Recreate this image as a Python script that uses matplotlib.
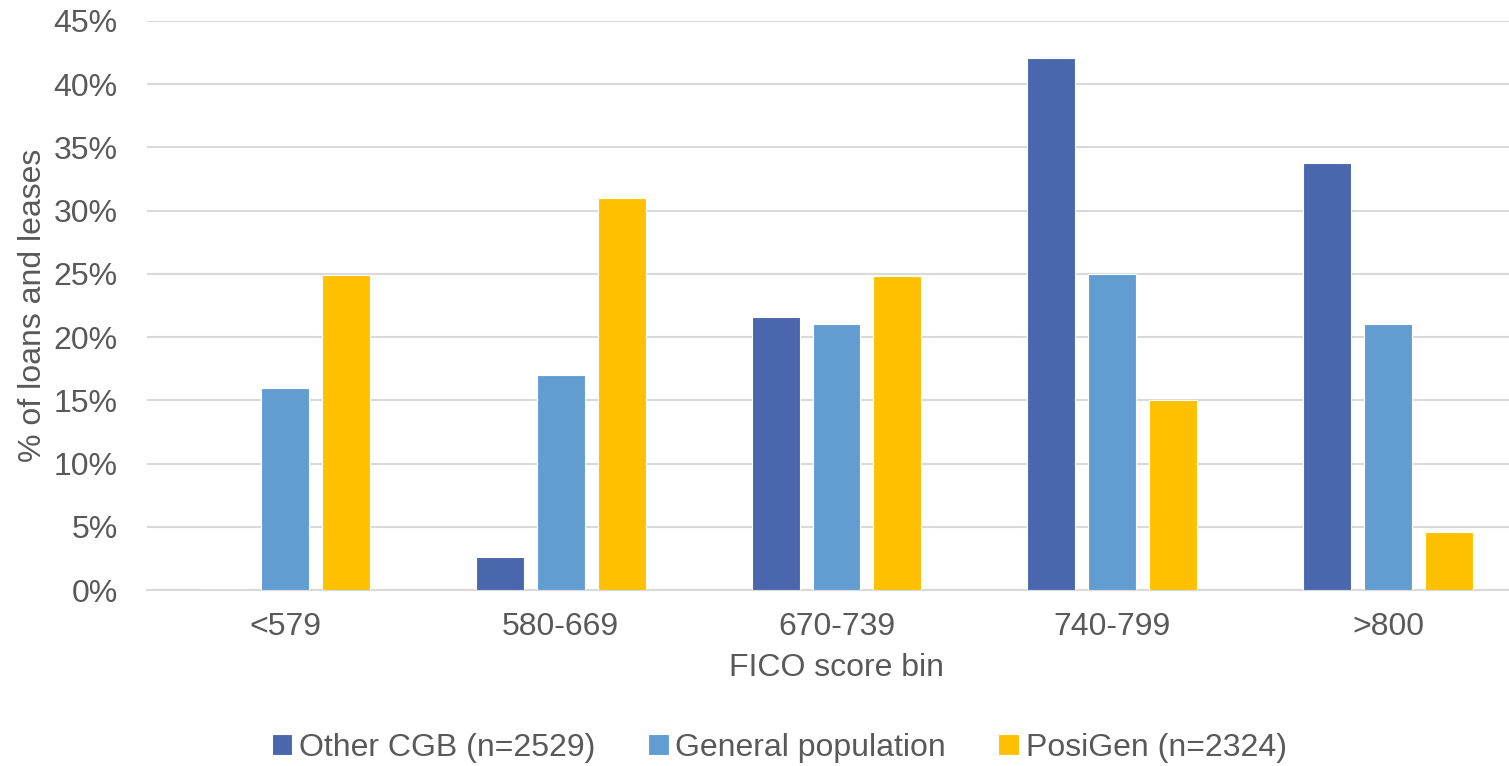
import numpy as np
import matplotlib.pyplot as plt
from matplotlib.ticker import FuncFormatter

# FICO bins and the share of loans/leases in each (percent)
bins = ["<579", "580-669", "670-739", "740-799", ">800"]
other_cgb = [0.0, 2.6, 21.6, 42.1, 33.8]
general_pop = [16.0, 17.0, 21.0, 25.0, 21.0]
posigen = [24.9, 31.0, 24.8, 15.0, 4.6]

series_names = ["Other CGB (n=2529)", "General population", "PosiGen (n=2324)"]
COLORS = ["#4A66AC", "#629DD1", "#FFC000"]
TEXT_COLOR = "#595959"
GRID_COLOR = "#D9D9D9"
FS = 23

plt.rcParams['font.family'] = ['Liberation Sans', 'DejaVu Sans']

fig = plt.figure(figsize=(15.09, 7.66), dpi=100)
# right edge goes a bit past the figure, like the cropped original
ax = fig.add_axes([147 / 1509, 1 - 590 / 766, (1526 - 147) / 1509, (590 - 21) / 766])

x = np.arange(len(bins))
step = 0.221
width = 0.174
for i, (vals, name) in enumerate(zip([other_cgb, general_pop, posigen], series_names)):
    ax.bar(x + (i - 1) * step, vals, width, color=COLORS[i], label=name,
           edgecolor="white", linewidth=0.8, zorder=3)

ax.set_xlim(-0.5, len(bins) - 0.5)
ax.set_ylim(0, 45)
ax.set_yticks(np.arange(0, 46, 5))
ax.yaxis.set_major_formatter(FuncFormatter(lambda v, p: f"{v:.0f}%"))
ax.set_xticks(x)
ax.set_xticklabels(bins)

ax.grid(axis="y", color=GRID_COLOR, linewidth=1.5, zorder=0)
for s in ["top", "right", "left"]:
    ax.spines[s].set_visible(False)
ax.spines["bottom"].set_color(GRID_COLOR)
ax.spines["bottom"].set_linewidth(1.5)

ax.tick_params(axis="y", length=0, pad=21, labelsize=FS, labelcolor=TEXT_COLOR)
ax.tick_params(axis="x", length=0, pad=16, labelsize=FS, labelcolor=TEXT_COLOR)

ax.set_xlabel("FICO score bin", fontsize=FS, color=TEXT_COLOR, labelpad=8)
ax.set_ylabel("% of loans and leases", fontsize=FS, color=TEXT_COLOR, labelpad=4)

fig.legend(loc="center", bbox_to_anchor=(779 / 1509, 1 - 748 / 766), ncol=3,
           frameon=False, fontsize=FS, handlelength=0.65, handleheight=0.65,
           handletextpad=0.2, columnspacing=1.65, labelcolor=TEXT_COLOR)

fig.savefig("out.png", dpi=100)
